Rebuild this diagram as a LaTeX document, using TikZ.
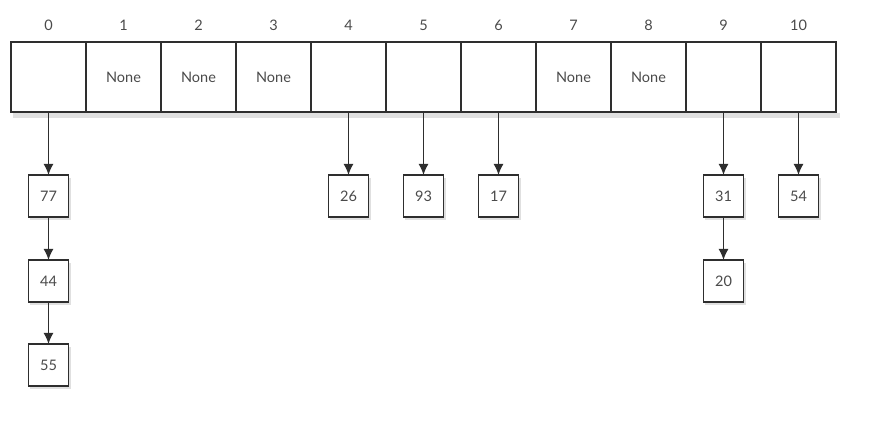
\documentclass[tikz,border=0pt]{standalone}
\usepackage{fontspec}
\setmainfont{Lato}
\usetikzlibrary{arrows.meta,backgrounds}
\definecolor{txt}{HTML}{4A4A4A}
\definecolor{ln}{HTML}{2E2E2E}
\begin{document}
\begin{tikzpicture}[x=1pt,y=-1pt,
  slot/.style={draw=ln,line width=1.8pt,fill=white,minimum width=75pt,minimum height=70pt,inner sep=0pt,outer sep=0pt,text=txt,font=\fontsize{14.5}{16}\selectfont},
  item/.style={draw=ln,line width=1.4pt,fill=white,minimum width=40pt,minimum height=42pt,inner sep=0pt,outer sep=0pt,text=txt,font=\fontsize{14.5}{16}\selectfont},
  idx/.style={text=txt,font=\fontsize{14.5}{16}\selectfont},
  shade/.style={fill=black,opacity=0.12},
  link/.style={draw=ln,line width=1.4pt,-{Latex[length=11pt,width=10pt]}}]
\useasboundingbox (0,0) rectangle (870,427);
\foreach \i/\t in {0/,1/None,2/None,3/None,4/,5/,6/,7/None,8/None,9/,10/}{
  \node[slot] (s\i) at ({48.5+75*\i},77) {\t};
  \node[idx] (n\i) at ({48.5+75*\i},25) {\i};
}
\node[item] (a77) at (48.5,196) {77};
\node[item] (a44) at (48.5,281) {44};
\node[item] (a55) at (48.5,365) {55};
\node[item] (a26) at (348.5,196) {26};
\node[item] (a93) at (423.5,196) {93};
\node[item] (a17) at (498.5,196) {17};
\node[item] (a31) at (723.5,196) {31};
\node[item] (a20) at (723.5,281) {20};
\node[item] (a54) at (798.5,196) {54};
\begin{scope}[on background layer]
  \fill[shade] ([xshift=2pt,yshift=-1pt]s0.south west) rectangle ([xshift=4pt,yshift=-6pt]s10.south east);
  \foreach \n in {a77,a44,a55,a26,a93,a17,a31,a20,a54}{
    \fill[shade] ([xshift=1.5pt,yshift=-3pt]\n.south west) rectangle ([xshift=2.5pt,yshift=-3pt]\n.north east);
  }
\end{scope}
\draw[link] (s0.south) -- (a77.north);
\draw[link] (a77.south) -- (a44.north);
\draw[link] (a44.south) -- (a55.north);
\draw[link] (s4.south) -- (a26.north);
\draw[link] (s5.south) -- (a93.north);
\draw[link] (s6.south) -- (a17.north);
\draw[link] (s9.south) -- (a31.north);
\draw[link] (a31.south) -- (a20.north);
\draw[link] (s10.south) -- (a54.north);
\end{tikzpicture}
\end{document}
